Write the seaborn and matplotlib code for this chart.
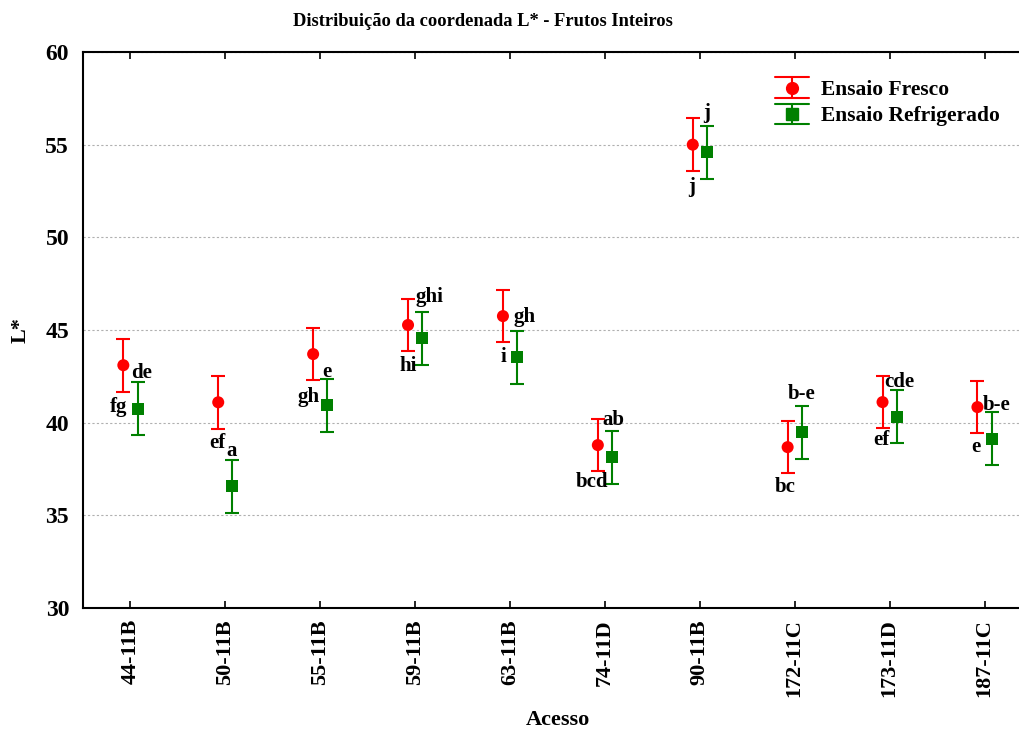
import matplotlib
matplotlib.use("Agg")
import matplotlib.pyplot as plt
from matplotlib.legend_handler import HandlerBase
from matplotlib.lines import Line2D
import numpy as np
import pandas as pd
import seaborn as sns

# --- data -------------------------------------------------------------
acessos = ["44-11B", "50-11B", "55-11B", "59-11B", "63-11B",
           "74-11D", "90-11B", "172-11C", "173-11D", "187-11C"]

fresco_mean = [43.10, 41.10, 43.70, 45.27, 45.75, 38.79, 55.00, 38.68, 41.11, 40.84]
fresco_err = [1.42, 1.42, 1.42, 1.42, 1.42, 1.42, 1.42, 1.42, 1.42, 1.42]
fresco_letras = ["fg", "ef", "gh", "hi", "i", "bcd", "j", "bc", "ef", "e"]

refrig_mean = [40.75, 36.58, 40.93, 44.55, 43.54, 38.14, 54.60, 39.49, 40.33, 39.12]
refrig_err = [1.43, 1.43, 1.43, 1.43, 1.43, 1.43, 1.43, 1.43, 1.43, 1.43]
refrig_letras = ["de", "a", "e", "ghi", "gh", "ab", "j", "b-e", "cde", "b-e"]

serie_nomes = ["Ensaio Fresco", "Ensaio Refrigerado"]
y_ticks = [30, 35, 40, 45, 50, 55, 60]

# placement of the letters relative to their point (pixels)
fresco_txt_dx = [-5, -1, -5, 0, 1, -6, -1, -2, -1, -2]
fresco_txt_dy = [-42, -41, -43, -41, -41, -37, -42, -40, -38, -40]
refrig_txt_dx = [4, -1, 0, 7, 7, 1, 0, 0, 3, 5]
refrig_txt_dy = [36, 35, 33, 41, 40, 37, 39, 38, 35, 34]

# --- style ------------------------------------------------------------
sns.set_style("white")
plt.rcParams["font.family"] = ["Liberation Serif", "DejaVu Serif"]
plt.rcParams["font.weight"] = "bold"
plt.rcParams["text.color"] = "black"
plt.rcParams["axes.labelcolor"] = "black"
plt.rcParams["xtick.color"] = "black"
plt.rcParams["ytick.color"] = "black"

RED = "#ff0000"
GREEN = "#008000"
offset = 0.075  # horizontal shift of each series around the category

idx = np.arange(len(acessos))
df = pd.DataFrame({
    "pos": np.concatenate([idx - offset, idx + offset]),
    "L": fresco_mean + refrig_mean,
    "err": fresco_err + refrig_err,
    "ensaio": [serie_nomes[0]] * len(acessos) + [serie_nomes[1]] * len(acessos),
})

fig = plt.figure(figsize=(10.20, 7.29), dpi=100)
ax = fig.add_axes([83 / 1020, 121 / 729, 949 / 1020, 556 / 729])

# error bars
for nome, cor in zip(serie_nomes, [RED, GREEN]):
    sub = df[df["ensaio"] == nome]
    ax.errorbar(sub["pos"], sub["L"], yerr=sub["err"], fmt="none",
                ecolor=cor, elinewidth=1.5, capsize=5, capthick=1.5, zorder=2)

# mean markers
sns.scatterplot(data=df, x="pos", y="L", hue="ensaio", style="ensaio",
                palette={serie_nomes[0]: RED, serie_nomes[1]: GREEN},
                markers={serie_nomes[0]: "o", serie_nomes[1]: "s"},
                s=75, linewidth=0, legend=False, zorder=3, ax=ax)

# letters of the mean comparison test
for i in idx:
    ax.annotate(fresco_letras[i], (i - offset, fresco_mean[i]),
                xytext=(fresco_txt_dx[i], fresco_txt_dy[i]),
                textcoords="offset pixels",
                ha="center", va="center", fontsize=15, fontweight="bold")
    ax.annotate(refrig_letras[i], (i + offset, refrig_mean[i]),
                xytext=(refrig_txt_dx[i], refrig_txt_dy[i]),
                textcoords="offset pixels",
                ha="center", va="center", fontsize=15, fontweight="bold")

# axes
ax.set_xlim(-0.5, len(acessos) - 0.5)
ax.set_ylim(30, 60)
ax.set_xticks(idx)
ax.set_xticklabels(acessos, rotation=90, fontsize=16, fontweight="bold")
ax.set_yticks(y_ticks)
ax.set_yticklabels([str(t) for t in y_ticks], fontsize=17, fontweight="bold")
ax.tick_params(axis="y", direction="out", length=4, width=1.2, pad=6)
ax.tick_params(axis="x", direction="in", length=5, width=1.2, pad=8,
               top=True, bottom=True)
for sp in ax.spines.values():
    sp.set_linewidth(1.5)
    sp.set_color("black")

ax.yaxis.grid(True, linestyle=(0, (2, 2)), color="#b0b0b0", linewidth=0.8)
ax.set_axisbelow(True)

ax.set_xlabel("Acesso", fontsize=16, fontweight="bold")
ax.set_ylabel("L*", fontsize=16, fontweight="bold")
ax.xaxis.set_label_coords((558 - 83) / 949, -(710 - 608) / 556)
ax.yaxis.set_label_coords(-(83 - 31) / 949, 0.5)

fig.text(483 / 1020, 1 - 22 / 729, "Distribuição da coordenada L* - Frutos Inteiros",
         ha="center", va="center", fontsize=13.3, fontweight="bold")


# legend: marker with a capped vertical bar
class CappedMarkerHandler(HandlerBase):
    def __init__(self, color, marker, ms):
        super().__init__()
        self.color, self.marker, self.ms = color, marker, ms

    def create_artists(self, legend, orig_handle, xdescent, ydescent,
                       width, height, fontsize, trans):
        x0, x1 = -xdescent, -xdescent + width
        xc = (x0 + x1) / 2
        yc = -ydescent + height / 2
        half = 7.5
        arts = [
            Line2D([x0, x1], [yc + half, yc + half], color=self.color, lw=1.5),
            Line2D([x0, x1], [yc - half, yc - half], color=self.color, lw=1.5),
            Line2D([xc, xc], [yc - half, yc + half], color=self.color, lw=1.5),
            Line2D([xc], [yc], marker=self.marker, color=self.color,
                   markersize=self.ms, linestyle="none"),
        ]
        for a in arts:
            a.set_transform(trans)
        return arts


h_fresco = Line2D([], [], color=RED)
h_refrig = Line2D([], [], color=GREEN)
ax.legend([h_fresco, h_refrig], serie_nomes,
          handler_map={h_fresco: CappedMarkerHandler(RED, "o", 8.5),
                       h_refrig: CappedMarkerHandler(GREEN, "s", 8.5)},
          loc="upper left", bbox_to_anchor=((775 - 83) / 949, (608 - 78) / 556),
          frameon=False, handlelength=1.6, handleheight=1.0,
          handletextpad=0.55, labelspacing=0.2, borderpad=0, borderaxespad=0,
          prop={"weight": "bold", "size": 15.5})

fig.savefig("out.png", dpi=100)
